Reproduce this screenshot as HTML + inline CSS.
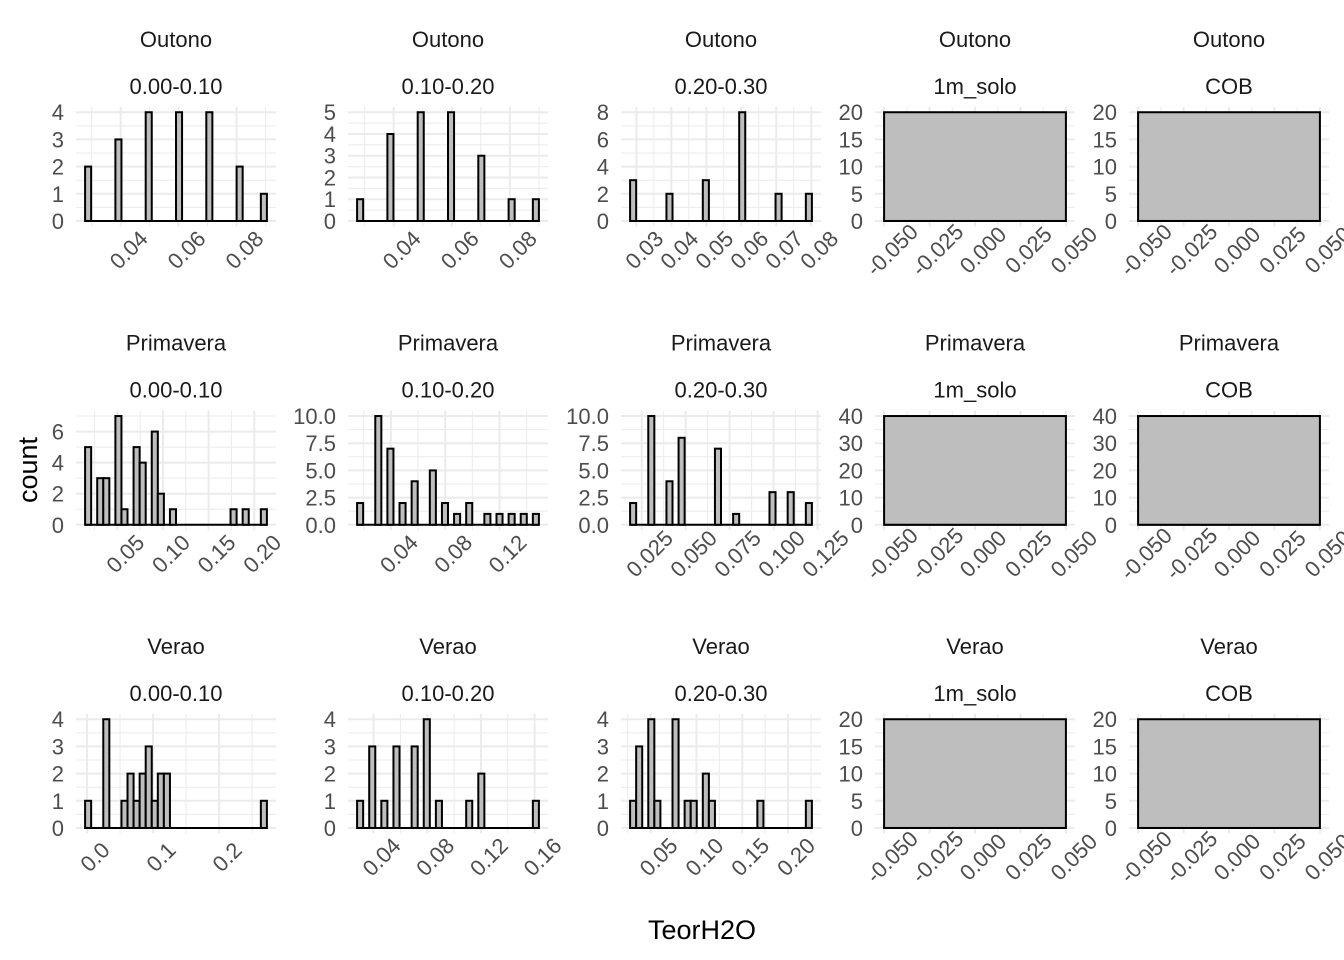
<!DOCTYPE html>
<html><head><meta charset="utf-8"><style>
html,body{margin:0;padding:0;background:#fff;}
svg{display:block;font-family:"Liberation Sans",Arial,sans-serif;}
</style></head><body>
<svg id="chart" width="1344" height="960" viewBox="0 0 1344 960" xmlns="http://www.w3.org/2000/svg">
<text x="702" y="939" font-size="27" fill="#000" text-anchor="middle">TeorH2O</text>
<text x="0" y="0" font-size="27" fill="#000" text-anchor="middle" transform="translate(37,470) rotate(-90)">count</text>
</svg>
<script>
// ---- data ----
const seasons = ["Outono", "Primavera", "Verao"];
const depths = ["0.00-0.10", "0.10-0.20", "0.20-0.30", "1m_solo", "COB"];
const countsOutono010 = [2,0,0,0,0,3,0,0,0,0,4,0,0,0,0,4,0,0,0,0,4,0,0,0,0,2,0,0,0,1];
const countsOutono1020 = [1,0,0,0,0,4,0,0,0,0,5,0,0,0,0,5,0,0,0,0,3,0,0,0,0,1,0,0,0,1];
const countsOutono2030 = [3,0,0,0,0,0,2,0,0,0,0,0,3,0,0,0,0,0,8,0,0,0,0,0,2,0,0,0,0,2];
const countsPrimavera010 = [5,0,3,3,0,7,1,0,5,4,0,6,2,0,1,0,0,0,0,0,0,0,0,0,1,0,1,0,0,1];
const countsPrimavera1020 = [2,0,0,10,0,7,0,2,0,4,0,0,5,0,2,0,1,0,2,0,0,1,0,1,0,1,0,1,0,1];
const countsPrimavera2030 = [2,0,0,10,0,0,4,0,8,0,0,0,0,0,7,0,0,1,0,0,0,0,0,3,0,0,3,0,0,2];
const countsVerao010 = [1,0,0,4,0,0,1,2,1,2,3,1,2,2,0,0,0,0,0,0,0,0,0,0,0,0,0,0,0,1];
const countsVerao1020 = [1,0,3,0,1,0,3,0,0,3,0,4,0,1,0,0,0,0,1,0,2,0,0,0,0,0,0,0,0,1];
const countsVerao2030 = [1,3,0,4,1,0,0,4,0,1,1,0,2,1,0,0,0,0,0,0,0,1,0,0,0,0,0,0,0,1];
const countsOutonoSolo = [20], countsOutonoCOB = [20];
const countsPrimaveraSolo = [40], countsPrimaveraCOB = [40];
const countsVeraoSolo = [20], countsVeraoCOB = [20];
// data ranges of bins [min,max]
const binRanges = [
  [[0.0277,0.0905],[0.0274,0.0900],[0.0282,0.0802],[-0.05,0.05],[-0.05,0.05]],
  [[0.0146,0.2139],[0.0151,0.1490],[0.0184,0.1218],[-0.05,0.05],[-0.05,0.05]],
  [[-0.003,0.2724],[0.0277,0.1632],[0.0276,0.2260],[-0.05,0.05],[-0.05,0.05]]
];
const xTickValues = [
  [[0.04,0.06,0.08],[0.04,0.06,0.08],[0.03,0.04,0.05,0.06,0.07,0.08],[-0.05,-0.025,0,0.025,0.05],[-0.05,-0.025,0,0.025,0.05]],
  [[0.05,0.10,0.15,0.20],[0.04,0.08,0.12],[0.025,0.05,0.075,0.1,0.125],[-0.05,-0.025,0,0.025,0.05],[-0.05,-0.025,0,0.025,0.05]],
  [[0.0,0.1,0.2],[0.04,0.08,0.12,0.16],[0.05,0.10,0.15,0.20],[-0.05,-0.025,0,0.025,0.05],[-0.05,-0.025,0,0.025,0.05]]
];
const xTickLabels = [
  [["0.04","0.06","0.08"],["0.04","0.06","0.08"],["0.03","0.04","0.05","0.06","0.07","0.08"],["-0.050","-0.025","0.000","0.025","0.050"],["-0.050","-0.025","0.000","0.025","0.050"]],
  [["0.05","0.10","0.15","0.20"],["0.04","0.08","0.12"],["0.025","0.050","0.075","0.100","0.125"],["-0.050","-0.025","0.000","0.025","0.050"],["-0.050","-0.025","0.000","0.025","0.050"]],
  [["0.0","0.1","0.2"],["0.04","0.08","0.12","0.16"],["0.05","0.10","0.15","0.20"],["-0.050","-0.025","0.000","0.025","0.050"],["-0.050","-0.025","0.000","0.025","0.050"]]
];
const yTickValues = [
  [[0,1,2,3,4],[0,1,2,3,4,5],[0,2,4,6,8],[0,5,10,15,20],[0,5,10,15,20]],
  [[0,2,4,6],[0,2.5,5,7.5,10],[0,2.5,5,7.5,10],[0,10,20,30,40],[0,10,20,30,40]],
  [[0,1,2,3,4],[0,1,2,3,4],[0,1,2,3,4],[0,5,10,15,20],[0,5,10,15,20]]
];
const yTickLabels = [
  [["0","1","2","3","4"],["0","1","2","3","4","5"],["0","2","4","6","8"],["0","5","10","15","20"],["0","5","10","15","20"]],
  [["0","2","4","6"],["0.0","2.5","5.0","7.5","10.0"],["0.0","2.5","5.0","7.5","10.0"],["0","10","20","30","40"],["0","10","20","30","40"]],
  [["0","1","2","3","4"],["0","1","2","3","4"],["0","1","2","3","4"],["0","5","10","15","20"],["0","5","10","15","20"]]
];
const allCounts = [
  [countsOutono010,countsOutono1020,countsOutono2030,countsOutonoSolo,countsOutonoCOB],
  [countsPrimavera010,countsPrimavera1020,countsPrimavera2030,countsPrimaveraSolo,countsPrimaveraCOB],
  [countsVerao010,countsVerao1020,countsVerao2030,countsVeraoSolo,countsVeraoCOB]
];
// ---- layout ----
const colLeft = [76, 348, 621, 875, 1129];
const panelW = 200;
const rowTop = [106.8, 410.6, 713.8];
const panelH = 119.6;
const svg = document.getElementById('chart');
const NS = 'http://www.w3.org/2000/svg';
function mk(tag, attrs, parent) {
  const e = document.createElementNS(NS, tag);
  for (const k in attrs) e.setAttribute(k, attrs[k]);
  (parent || svg).appendChild(e);
  return e;
}
for (let r = 0; r < 3; r++) {
  for (let c = 0; c < 5; c++) {
    const g = mk('g', {});
    
    
    const counts = allCounts[r][c];
    const [lo, hi] = binRanges[r][c];
    const span = hi - lo;
    const xd0 = lo - 0.05 * span, xd1 = hi + 0.05 * span;
    const L = colLeft[c], T = rowTop[r];
    const xs = v => L + (v - xd0) / (xd1 - xd0) * panelW;
    const yt = yTickValues[r][c];
    const ymax = Math.max(...counts);
    const yd0 = -0.05 * ymax, yd1 = 1.05 * ymax;
    const ys = v => T + panelH - (v - yd0) / (yd1 - yd0) * panelH;
    for (let i = 0; i < yt.length; i++) {
      const gl = mk('line', {x1: L, x2: L + panelW, y1: ys(yt[i]), y2: ys(yt[i]), stroke: '#ebebeb', 'stroke-width': 2}, g);
      
      
      const step = yt.length > 1 ? yt[1] - yt[0] : 1;
      const mv = yt[i] + step / 2;
      if (ys(mv) > T) {
        const ml = mk('line', {x1: L, x2: L + panelW, y1: ys(mv), y2: ys(mv), stroke: '#ebebeb', 'stroke-width': 1}, g);
        
        
      }
      const tl = mk('text', {x: L - 12, y: ys(yt[i]) + 8, 'font-size': 22, fill: '#4d4d4d', 'text-anchor': 'end'}, g);
      tl.textContent = yTickLabels[r][c][i];
      
      
    }
    const xt = xTickValues[r][c];
    const xstep = xt[1] - xt[0];
    for (let v = xt[0] - xstep * 3; v <= xt[xt.length - 1] + xstep * 3 + 1e-9; v += xstep / 2) {
      const px = xs(v);
      if (px < L - 0.5 || px > L + panelW + 0.5) continue;
      const isMajor = Math.abs(((v - xt[0]) / xstep) - Math.round((v - xt[0]) / xstep)) < 1e-6;
      const gl = mk('line', {x1: px, x2: px, y1: T, y2: T + panelH, stroke: '#ebebeb', 'stroke-width': isMajor ? 2 : 1}, g);
      
      
    }
    for (let i = 0; i < xt.length; i++) {
      const px = xs(xt[i]);
      const ty = ys(0) + 29;
      const tl = mk('text', {x: 0, y: 0, 'font-size': 22, fill: '#4d4d4d', 'text-anchor': 'middle', 'dominant-baseline': 'central', transform: 'translate(' + (px + 8) + ',' + ty + ') rotate(-45)'}, g);
      tl.textContent = xTickLabels[r][c][i];
      
      
    }
    const bw = span / counts.length;
    const base = mk('line', {x1: xs(lo), x2: xs(hi), y1: ys(0), y2: ys(0), stroke: '#000', 'stroke-width': 2}, g);
    
    
    for (let i = 0; i < counts.length; i++) {
      if (counts[i] <= 0) continue;
      const x0 = xs(lo + i * bw), x1 = xs(lo + (i + 1) * bw);
      const b = mk('rect', {x: x0, y: ys(counts[i]), width: x1 - x0, height: ys(0) - ys(counts[i]), fill: '#bebebe', stroke: '#000', 'stroke-width': 2}, g);
      
      
    }
    const cx = L + panelW / 2;
    const s1 = mk('text', {x: cx, y: T - 60, 'font-size': 22, fill: '#1a1a1a', 'text-anchor': 'middle'}, g);
    s1.textContent = seasons[r];
    
    
    const s2 = mk('text', {x: cx, y: T - 13, 'font-size': 22, fill: '#1a1a1a', 'text-anchor': 'middle'}, g);
    s2.textContent = depths[c];
    
    
  }
}
</script>
</body></html>
